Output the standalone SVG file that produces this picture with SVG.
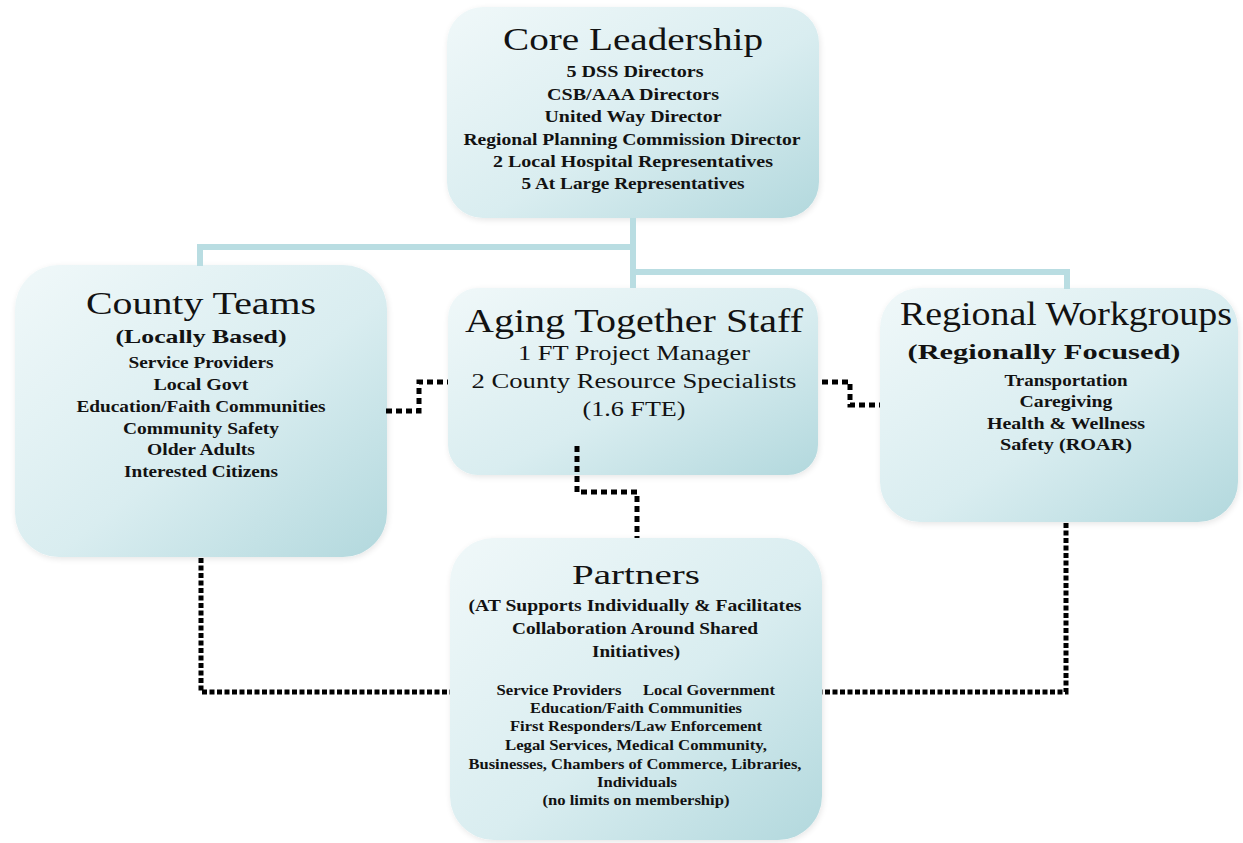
<svg xmlns="http://www.w3.org/2000/svg" width="1243" height="843" viewBox="0 0 1243 843">
<defs>
<linearGradient id="g" x1="0" y1="0" x2="1" y2="1">
<stop offset="0" stop-color="#f0f8f9"/>
<stop offset="0.55" stop-color="#d9edf0"/>
<stop offset="1" stop-color="#b2d8dd"/>
</linearGradient>
<filter id="sh" x="-10%" y="-10%" width="120%" height="120%">
<feGaussianBlur in="SourceAlpha" stdDeviation="3"/>
<feOffset dx="1" dy="2"/>
<feComponentTransfer><feFuncA type="linear" slope="0.1"/></feComponentTransfer>
<feMerge><feMergeNode/><feMergeNode in="SourceGraphic"/></feMerge>
</filter>
</defs>
<style>
.box{fill:url(#g);filter:url(#sh);}
.t{font-family:'Liberation Serif','Times New Roman',Times,serif;fill:#121212;text-anchor:middle;}
.b{font-weight:bold;}
.teal{fill:none;stroke:#b9dde2;stroke-width:6;}
.dot{fill:none;stroke:#000;stroke-width:5;stroke-dasharray:5 2.5;}
.dots{fill:none;stroke:#000;stroke-width:5;stroke-dasharray:6 4;}
</style>
<rect width="1243" height="843" fill="#fff"/>

<g id="core-leadership" font-family="Liberation Serif">
<rect class="box" x="447" y="7" width="372" height="211" rx="36"/>
<text class="t" x="633" y="50" font-size="32" textLength="260" lengthAdjust="spacingAndGlyphs">Core Leadership</text>
<text class="t b" x="635" y="77" font-size="16" textLength="137" lengthAdjust="spacingAndGlyphs">5 DSS Directors</text>
<text class="t b" x="633" y="100" font-size="16" textLength="172" lengthAdjust="spacingAndGlyphs">CSB/AAA Directors</text>
<text class="t b" x="633" y="122" font-size="16" textLength="177" lengthAdjust="spacingAndGlyphs">United Way Director</text>
<text class="t b" x="632" y="145" font-size="16" textLength="337" lengthAdjust="spacingAndGlyphs">Regional Planning Commission Director</text>
<text class="t b" x="633" y="167" font-size="16" textLength="280" lengthAdjust="spacingAndGlyphs">2 Local Hospital Representatives</text>
<text class="t b" x="633" y="189" font-size="16" textLength="223" lengthAdjust="spacingAndGlyphs">5 At Large Representatives</text>
</g>

<g id="county-teams" font-family="Liberation Serif">
<rect class="box" x="15" y="265" width="372" height="292" rx="44"/>
<text class="t" x="201" y="314" font-size="31" textLength="230" lengthAdjust="spacingAndGlyphs">County Teams</text>
<text class="t b" x="201" y="343" font-size="19" textLength="171" lengthAdjust="spacingAndGlyphs">(Locally Based)</text>
<text class="t b" x="201" y="368" font-size="17" textLength="145" lengthAdjust="spacingAndGlyphs">Service Providers</text>
<text class="t b" x="201" y="390" font-size="17" textLength="95" lengthAdjust="spacingAndGlyphs">Local Govt</text>
<text class="t b" x="201" y="412" font-size="17" textLength="249" lengthAdjust="spacingAndGlyphs">Education/Faith Communities</text>
<text class="t b" x="201" y="434" font-size="17" textLength="156" lengthAdjust="spacingAndGlyphs">Community Safety</text>
<text class="t b" x="201" y="455" font-size="17" textLength="108" lengthAdjust="spacingAndGlyphs">Older Adults</text>
<text class="t b" x="201" y="477" font-size="17" textLength="154" lengthAdjust="spacingAndGlyphs">Interested Citizens</text>
</g>

<g id="aging-together-staff" font-family="Liberation Serif">
<rect class="box" x="448" y="288" width="370" height="187" rx="30"/>
<text class="t" x="634" y="332" font-size="34" textLength="338" lengthAdjust="spacingAndGlyphs">Aging Together Staff</text>
<text class="t" x="634" y="360" font-size="20" textLength="232" lengthAdjust="spacingAndGlyphs">1 FT Project Manager</text>
<text class="t" x="634" y="388" font-size="20" textLength="325" lengthAdjust="spacingAndGlyphs">2 County Resource  Specialists</text>
<text class="t" x="634" y="416" font-size="20" textLength="103" lengthAdjust="spacingAndGlyphs">(1.6 FTE)</text>
</g>

<g id="regional-workgroups" font-family="Liberation Serif">
<rect class="box" x="880" y="288" width="358" height="234" rx="40"/>
<text class="t" x="1066" y="325" font-size="33" textLength="332" lengthAdjust="spacingAndGlyphs">Regional Workgroups</text>
<text class="t b" x="1044" y="359" font-size="20" textLength="273" lengthAdjust="spacingAndGlyphs">(Regionally Focused)</text>
<text class="t b" x="1066" y="386" font-size="16" textLength="123" lengthAdjust="spacingAndGlyphs">Transportation</text>
<text class="t b" x="1066" y="407" font-size="16" textLength="93" lengthAdjust="spacingAndGlyphs">Caregiving</text>
<text class="t b" x="1066" y="429" font-size="16" textLength="158" lengthAdjust="spacingAndGlyphs">Health &amp; Wellness</text>
<text class="t b" x="1066" y="450" font-size="16" textLength="132" lengthAdjust="spacingAndGlyphs">Safety (ROAR)</text>
</g>

<g id="partners" font-family="Liberation Serif">
<rect class="box" x="450" y="538" width="372" height="302" rx="44"/>
<text class="t" x="636" y="584" font-size="28" textLength="128" lengthAdjust="spacingAndGlyphs">Partners</text>
<text class="t b" x="635" y="611" font-size="17" textLength="333" lengthAdjust="spacingAndGlyphs">(AT Supports Individually &amp; Facilitates</text>
<text class="t b" x="635" y="634" font-size="17" textLength="246" lengthAdjust="spacingAndGlyphs">Collaboration Around Shared</text>
<text class="t b" x="636" y="657" font-size="17" textLength="88" lengthAdjust="spacingAndGlyphs">Initiatives)</text>
<text class="t b" x="559" y="695" font-size="14" textLength="125" lengthAdjust="spacingAndGlyphs">Service Providers</text>
<text class="t b" x="709" y="695" font-size="14" textLength="132" lengthAdjust="spacingAndGlyphs">Local Government</text>
<text class="t b" x="636" y="713" font-size="14" textLength="212" lengthAdjust="spacingAndGlyphs">Education/Faith Communities</text>
<text class="t b" x="636" y="731" font-size="14" textLength="252" lengthAdjust="spacingAndGlyphs">First Responders/Law Enforcement</text>
<text class="t b" x="636" y="750" font-size="14" textLength="262" lengthAdjust="spacingAndGlyphs">Legal Services, Medical Community,</text>
<text class="t b" x="635" y="769" font-size="14" textLength="333" lengthAdjust="spacingAndGlyphs">Businesses, Chambers of Commerce, Libraries,</text>
<text class="t b" x="637" y="787" font-size="14" textLength="80" lengthAdjust="spacingAndGlyphs">Individuals</text>
<text class="t b" x="636" y="805" font-size="14" textLength="187" lengthAdjust="spacingAndGlyphs">(no limits on membership)</text>
</g>

<g id="connectors">
<path class="teal" d="M633,218 V288"/>
<path class="teal" d="M200,266 V247 H633"/>
<path class="teal" d="M633,272 H1067 V289"/>
<path class="dot" d="M201,558 V692 H450"/>
<path class="dot" d="M1066,523 V692 H822"/>
<path class="dots" d="M386,411 H419 V382 H448"/>
<path class="dots" d="M822,382 H850 V405 H880"/>
<path class="dots" d="M577,446 V492 H637 V538"/>
</g>
</svg>
